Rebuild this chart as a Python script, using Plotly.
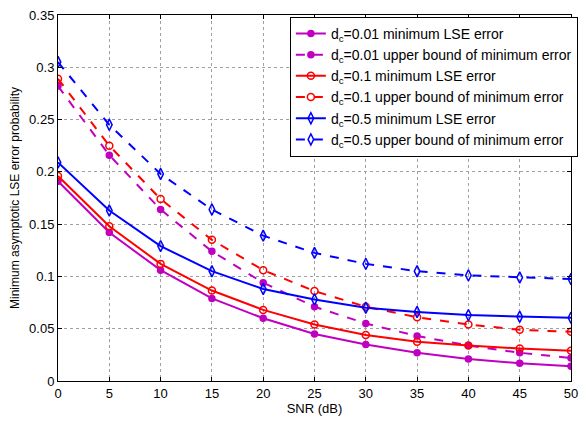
import plotly.graph_objects as go

snr = [0, 5, 10, 15, 20, 25, 30, 35, 40, 45, 50]

lse_001 = [0.191, 0.142, 0.106, 0.079, 0.060, 0.045, 0.035, 0.027, 0.021, 0.017, 0.014]
ub_001 = [0.282, 0.216, 0.164, 0.124, 0.094, 0.071, 0.055, 0.043, 0.034, 0.027, 0.022]
lse_01 = [0.196, 0.148, 0.112, 0.0865, 0.068, 0.054, 0.044, 0.0375, 0.034, 0.031, 0.029]
ub_01 = [0.289, 0.225, 0.174, 0.135, 0.106, 0.086, 0.071, 0.061, 0.054, 0.049, 0.047]
lse_05 = [0.209, 0.163, 0.129, 0.105, 0.088, 0.078, 0.070, 0.066, 0.063, 0.0615, 0.0605]
ub_05 = [0.305, 0.245, 0.198, 0.164, 0.139, 0.1225, 0.112, 0.105, 0.101, 0.099, 0.0975]

MAG = "#C000C0"
RED = "#FF0000"
BLUE = "#0000FF"

series = [
    ("d<sub>c</sub>=0.01 minimum LSE error", lse_001, MAG, "solid", "circle", 6),
    ("d<sub>c</sub>=0.01 upper bound of minimum error", ub_001, MAG, "dash", "circle", 6),
    ("d<sub>c</sub>=0.1 minimum LSE error", lse_01, RED, "solid", "circle-open", 7),
    ("d<sub>c</sub>=0.1 upper bound of minimum error", ub_01, RED, "dash", "circle-open", 7),
    ("d<sub>c</sub>=0.5 minimum LSE error", lse_05, BLUE, "solid", "diamond-tall-open", 8),
    ("d<sub>c</sub>=0.5 upper bound of minimum error", ub_05, BLUE, "dash", "diamond-tall-open", 8),
]

fig = go.Figure()
for name, ys, col, dash, sym, sz in series:
    fig.add_trace(go.Scatter(
        x=snr, y=ys, name=name, mode="lines+markers",
        line=dict(color=col, width=2, dash=dash),
        marker=dict(symbol=sym, size=sz, color=col, line=dict(color=col, width=1.5)),
    ))

axis_common = dict(
    showline=True, linecolor="black", linewidth=1, mirror="ticks",
    ticks="inside", ticklen=4, tickcolor="black",
    showgrid=True, gridcolor="#A0A0A0", griddash="dot", gridwidth=1,
    zeroline=False, tickfont=dict(size=13, color="black"),
)

fig.update_xaxes(range=[0, 50], dtick=5, title=dict(text="SNR (dB)", font=dict(size=13), standoff=3),
                 **axis_common)
fig.update_yaxes(range=[0, 0.35], dtick=0.05, tickformat="~g",
                 title=dict(text="Minimum asymptotic LSE error probability", font=dict(size=12), standoff=6),
                 **axis_common)

fig.update_layout(
    width=586, height=421,
    margin=dict(l=58, r=8, t=9, b=39),
    paper_bgcolor="white", plot_bgcolor="white",
    font=dict(family="Liberation Sans, Arial, sans-serif", color="black"),
    legend=dict(
        x=0.452, y=0.995, xanchor="left", yanchor="top",
        bgcolor="white", bordercolor="black", borderwidth=1,
        font=dict(size=14), tracegroupgap=0, itemwidth=30,
    ),
    showlegend=True,
)

# page body has a default 8px margin; drop it so the figure sits at the window origin
fig.write_html("out.html", config={"displayModeBar": False},
               post_script="document.body.style.margin='0';")
